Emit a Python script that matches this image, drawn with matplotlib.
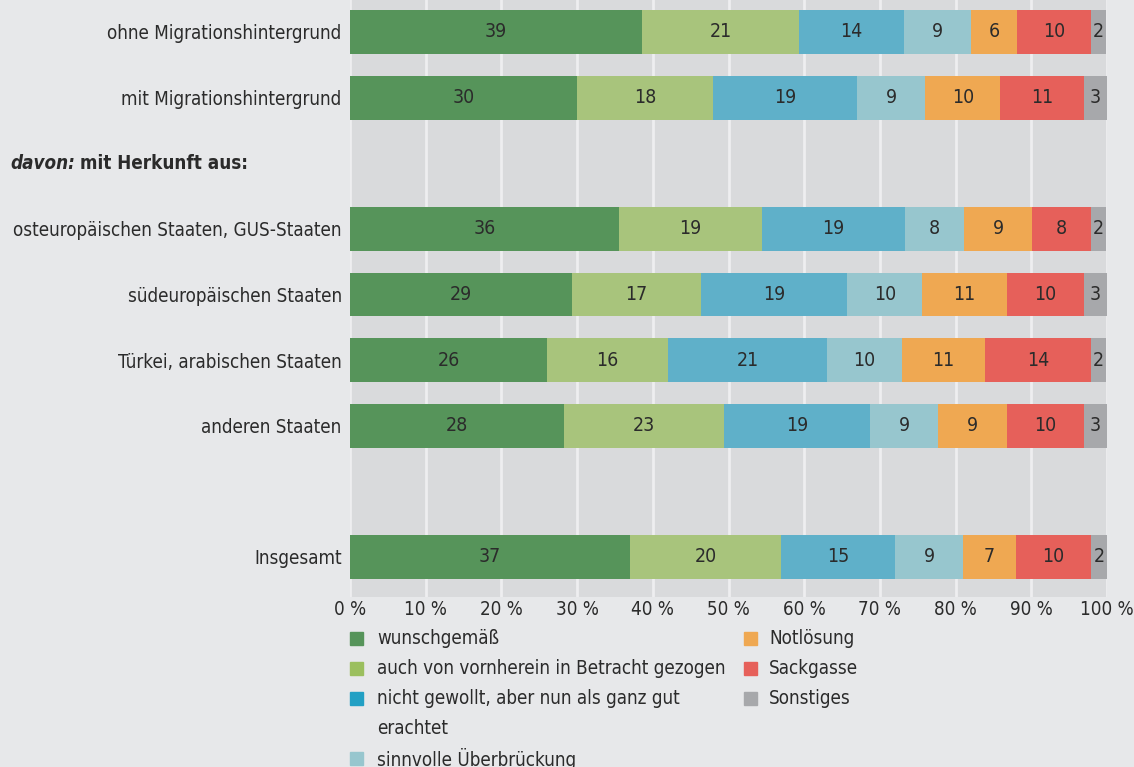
import matplotlib
matplotlib.use("Agg")
import matplotlib.pyplot as plt
import matplotlib.transforms as mtransforms
from matplotlib.patches import Rectangle

plt.rcParams['font.family'] = ['DejaVu Sans']
plt.rcParams['font.stretch'] = 'condensed'

# Zeilen (von oben nach unten), nur Zeilen mit Balken
gruppen = ["ohne Migrationshintergrund", "mit Migrationshintergrund",
           "osteuropäischen Staaten, GUS-Staaten", "südeuropäischen Staaten",
           "Türkei, arabischen Staaten", "anderen Staaten", "Insgesamt"]

kategorien = ["wunschgemäß", "auch von vornherein in Betracht gezogen",
              "nicht gewollt, aber nun als ganz gut\nerachtet", "sinnvolle Überbrückung",
              "Notlösung", "Sackgasse", "Sonstiges"]

# Balkenlängen in %
wunschgemaess = [38.6, 30.0, 35.5, 29.3, 26.0, 28.3, 37.0]
vornherein    = [20.7, 18.0, 18.9, 17.1, 16.0, 21.1, 19.9]
nicht_gewollt = [13.9, 19.0, 18.9, 19.3, 21.0, 19.3, 15.1]
ueberbrueck   = [8.9, 9.0, 7.8, 9.9, 9.9, 9.0, 9.0]
notloesung    = [6.0, 9.9, 9.0, 11.2, 11.0, 9.1, 7.0]
sackgasse     = [9.8, 11.1, 7.8, 10.2, 14.0, 10.2, 9.9]
sonstiges     = [2.0, 3.0, 2.0, 3.0, 2.0, 3.0, 2.1]

# beschriftete Werte (wie in der Grafik gedruckt)
etiketten = [
    [39, 30, 36, 29, 26, 28, 37],
    [21, 18, 19, 17, 16, 23, 20],
    [14, 19, 19, 19, 21, 19, 15],
    [9, 9, 8, 10, 10, 9, 9],
    [6, 10, 9, 11, 11, 9, 7],
    [10, 11, 8, 10, 14, 10, 10],
    [2, 3, 2, 3, 2, 3, 2],
]

serien = [wunschgemaess, vornherein, nicht_gewollt, ueberbrueck, notloesung, sackgasse, sonstiges]

farben = ['#56945a', '#a8c47c', '#5fb0c9', '#97c6ce', '#efa852', '#e6605a', '#a7a8ab']
legenden_farben = ['#56945a', '#9bbf5e', '#22a0c4', '#97c6ce', '#efa852', '#e6605a', '#a7a8ab']

# Zeilenpositionen (2 = Zwischenüberschrift, 7 = Leerzeile)
zeilen_y = [0, 1, 3, 4, 5, 6, 8]

W, H = 1134, 767
fs = 13.5
fig = plt.figure(figsize=(W / 100, H / 100), dpi=100, facecolor='#e7e8ea')
ax = fig.add_axes([350 / W, 1 - 597 / H, 757 / W, 597 / H])
ax.set_facecolor('#d9dadc')

links = [0.0] * len(gruppen)
for werte, farbe, lab in zip(serien, farben, etiketten):
    ax.barh(zeilen_y, werte, left=links, height=0.67, color=farbe, zorder=3)
    for y, l, w, t in zip(zeilen_y, links, werte, lab):
        ax.text(l + w / 2, y, str(t), ha='center', va='center', fontsize=14,
                color='#2b2b2b', zorder=4)
    links = [a + b for a, b in zip(links, werte)]

ax.set_xlim(0, 100)
ax.set_ylim(8.61, -0.4876)
ax.set_xticks(range(0, 101, 10))
ax.set_xticklabels([f"{v} %" for v in range(0, 101, 10)], fontsize=fs, color='#2b2b2b')
ax.set_yticks(zeilen_y)
ax.set_yticklabels(gruppen, fontsize=fs, color='#2b2b2b')
ax.tick_params(length=0)
ax.tick_params(axis='x', pad=2)
ax.tick_params(axis='y', pad=6)
ax.xaxis.grid(True, color='#eeeef0', lw=2)
ax.set_axisbelow(True)
for s in ax.spines.values():
    s.set_visible(False)

# Zwischenüberschrift
trans = mtransforms.blended_transform_factory(fig.transFigure, ax.transData)
t1 = ax.text(10 / W, 2, "davon:", transform=trans, fontsize=fs, fontweight='bold',
             style='italic', va='center', ha='left', color='#2b2b2b')
ax.annotate("mit Herkunft aus:", xy=(1, 0.5), xycoords=t1, xytext=(4, 0),
            textcoords='offset points', va='center', ha='left', fontsize=fs,
            fontweight='bold', color='#2b2b2b')

# Legende
spalten_x = [(350, 377), (744, 769)]
zeile = 0
for i, (kat, farbe) in enumerate(zip(kategorien, legenden_farben)):
    spalte = 0 if i < 4 else 1
    if i == 4:
        zeile = 0
    yc = 638 + 30 * zeile
    sx, tx = spalten_x[spalte]
    fig.add_artist(Rectangle((sx / W, 1 - (yc + 6.5) / H), 13 / W, 13 / H,
                             transform=fig.transFigure, color=farbe))
    fig.text(tx / W, 1 - (yc - 9.5) / H, kat, fontsize=fs, color='#2b2b2b',
             va='top', ha='left', linespacing=1.8)
    zeile += kat.count("\n") + 1

fig.savefig("out.png", dpi=100, facecolor=fig.get_facecolor())
